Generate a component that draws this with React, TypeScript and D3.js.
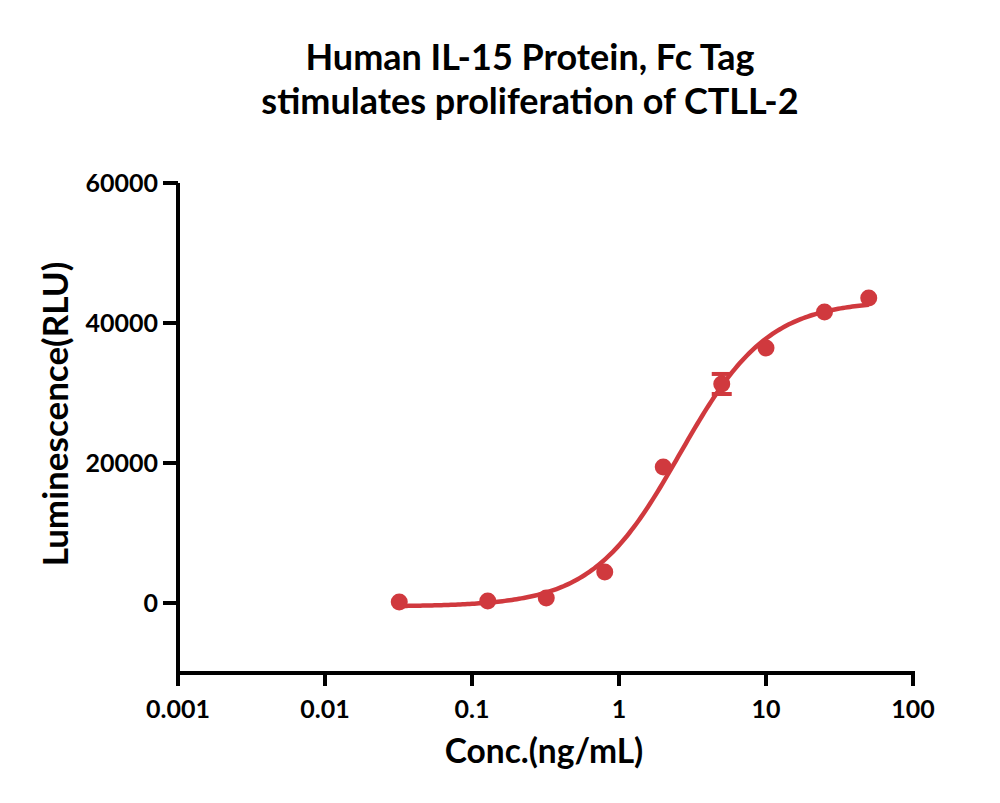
import React from "react";
import * as d3 from "d3";

const concentrations = [0.032, 0.128, 0.32, 0.8, 2, 5, 10, 25, 50];
const luminescence = [140, 290, 710, 4430, 19430, 31290, 36430, 41570, 43570];
const errors = [0, 0, 0, 0, 0, 1430, 0, 0, 0];
const xTicks = [0.001, 0.01, 0.1, 1, 10, 100];
const xTickLabels = ["0.001", "0.01", "0.1", "1", "10", "100"];
const yTicks = [0, 20000, 40000, 60000];
// four-parameter logistic fit
const fitBottom = -500;
const fitTop = 43200;
const fitEC50 = 2.6;
const fitHill = 1.45;

const W = 1000;
const H = 803;
const FONT = "Lato, 'Open Sans', sans-serif";
const RED = "#d0393e";

export default function App() {
  const x = d3.scaleLog().domain([0.001, 100]).range([178, 913]);
  const y = d3.scaleLinear().domain([-10000, 60000]).range([673, 183]);
  const f = (c: number) => fitBottom + (fitTop - fitBottom) / (1 + Math.pow(fitEC50 / c, fitHill));
  const curveX = d3.range(0, 201).map((i) => Math.pow(10, Math.log10(0.032) + (i / 200) * (Math.log10(50) - Math.log10(0.032))));
  const line = d3
    .line<number>()
    .x((c) => x(c))
    .y((c) => y(f(c)))
    .curve(d3.curveLinear);

  return (
    <svg width={W} height={H} style={{ position: "absolute", left: 0, top: 0 }} fontFamily={FONT} fontWeight="bold">
      <rect width={W} height={H} fill="#fff" />
      <text x={530} y={70} textAnchor="middle" fontSize={36}>
        Human IL-15 Protein, Fc Tag
      </text>
      <text x={530} y={114} textAnchor="middle" fontSize={36}>
        stimulates proliferation of CTLL-2
      </text>
      {/* axes */}
      <line x1={178} x2={178} y1={183} y2={675} stroke="#000" strokeWidth={4} />
      <line x1={176} x2={915} y1={673} y2={673} stroke="#000" strokeWidth={4} />
      {yTicks.map((t) => (
        <g key={t}>
          <line x1={163} x2={178} y1={y(t)} y2={y(t)} stroke="#000" strokeWidth={4} />
          <text x={158} y={y(t)} dy="0.36em" textAnchor="end" fontSize={25}>
            {t}
          </text>
        </g>
      ))}
      {xTicks.map((t, i) => (
        <g key={t}>
          <line x1={x(t)} x2={x(t)} y1={673} y2={686} stroke="#000" strokeWidth={4} />
          <text x={x(t)} y={718} textAnchor="middle" fontSize={25}>
            {xTickLabels[i]}
          </text>
        </g>
      ))}
      <text x={544} y={763} textAnchor="middle" fontSize={33.5}>
        Conc.(ng/mL)
      </text>
      <text transform={`translate(68,414) rotate(-90)`} textAnchor="middle" fontSize={35}>
        Luminescence(RLU)
      </text>
      {/* fit curve */}
      <path d={line(curveX) || ""} fill="none" stroke={RED} strokeWidth={4.5} />
      {/* error bars */}
      {concentrations.map((c, i) =>
        errors[i] > 0 ? (
          <g key={"e" + c} stroke={RED} strokeWidth={4}>
            <line x1={x(c)} x2={x(c)} y1={y(luminescence[i] - errors[i])} y2={y(luminescence[i] + errors[i])} />
            <line x1={x(c) - 10} x2={x(c) + 10} y1={y(luminescence[i] + errors[i])} y2={y(luminescence[i] + errors[i])} />
            <line x1={x(c) - 10} x2={x(c) + 10} y1={y(luminescence[i] - errors[i])} y2={y(luminescence[i] - errors[i])} />
          </g>
        ) : null
      )}
      {concentrations.map((c, i) => (
        <circle key={c} cx={x(c)} cy={y(luminescence[i])} r={8.5} fill={RED} />
      ))}
    </svg>
  );
}
